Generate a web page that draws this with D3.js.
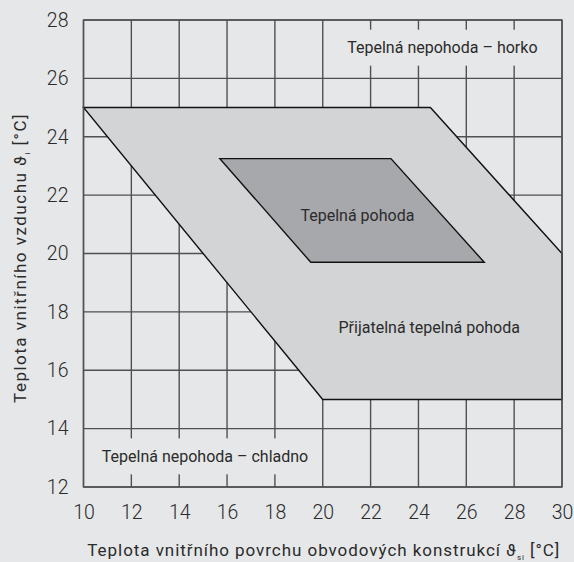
<!DOCTYPE html>
<html>
<head>
<meta charset="utf-8">
<script src="https://cdn.jsdelivr.net/npm/d3@7"></script>
<style>
  html, body { margin: 0; padding: 0; background: #e6e7e8; }
  svg { display: block; }
  text { font-family: Roboto, "DejaVu Sans", sans-serif; fill: #2b2b2b; }
</style>
</head>
<body>
<svg id="chart" width="574" height="562"></svg>
<script>
// Surface temperature (x) vs. indoor air temperature (y), °C
const xTicks = [10, 12, 14, 16, 18, 20, 22, 24, 26, 28, 30];
const yTicks = [12, 14, 16, 18, 20, 22, 24, 26, 28];

// Zone of acceptable thermal comfort: [surface temp, air temp]
const acceptableZone = [[10, 25], [24.5, 25], [30, 20], [30, 15], [20, 15]];
// Zone of thermal comfort
const comfortZone = [[15.7, 23.25], [22.85, 23.25], [26.75, 19.7], [19.5, 19.7]];

// Zone labels: text, centre x, centre y (data units), whether it masks the grid
const zoneLabels = [
  { text: "Tepelná nepohoda – horko", x: 25.0, y: 27.05, mask: true },
  { text: "Tepelná pohoda", x: 21.45, y: 21.3, mask: false },
  { text: "Přijatelná tepelná pohoda", x: 24.45, y: 17.45, mask: false },
  { text: "Tepelná nepohoda – chladno", x: 15.08, y: 13.05, mask: true }
];

const svg = d3.select("#chart");
const m = { left: 83.5, right: 562, top: 20, bottom: 487 };

const x = d3.scaleLinear().domain([10, 30]).range([m.left, m.right]);
const y = d3.scaleLinear().domain([12, 28]).range([m.bottom, m.top]);

const gridColor = "#505050";

// Grid
const grid = svg.append("g");
grid.selectAll("line.v").data(xTicks).join("line")
  .attr("x1", d => x(d)).attr("x2", d => x(d))
  .attr("y1", m.top).attr("y2", m.bottom)
  .attr("stroke", gridColor).attr("stroke-width", 1.4);
grid.selectAll("line.h").data(yTicks).join("line")
  .attr("x1", m.left).attr("x2", m.right)
  .attr("y1", d => y(d)).attr("y2", d => y(d))
  .attr("stroke", gridColor).attr("stroke-width", 1.4);

// Zones
const line = d3.line().x(d => x(d[0])).y(d => y(d[1]));
svg.append("path")
  .attr("d", line(acceptableZone) + "Z")
  .attr("fill", "#d3d4d6").attr("stroke", "#111").attr("stroke-width", 1.4)
  .attr("stroke-linejoin", "miter");
svg.append("path")
  .attr("d", line(comfortZone) + "Z")
  .attr("fill", "#a7a8ab").attr("stroke", "#111").attr("stroke-width", 1.4);

// Labels (with background boxes that interrupt the grid)
const labels = svg.append("g");
zoneLabels.forEach(l => {
  const t = labels.append("text")
    .attr("x", x(l.x)).attr("y", y(l.y))
    .attr("text-anchor", "middle").attr("dominant-baseline", "central")
    .attr("font-size", 16)
    .text(l.text);
  if (l.mask) {
    const bb = t.node().getBBox();
    labels.insert("rect", () => t.node())
      .attr("x", bb.x - 9).attr("y", y(l.y) - 18)
      .attr("width", bb.width + 18).attr("height", 36)
      .attr("fill", "#e6e7e8");
  }
});

// Plot frame
svg.append("rect")
  .attr("x", m.left).attr("y", m.top)
  .attr("width", m.right - m.left).attr("height", m.bottom - m.top)
  .attr("fill", "none").attr("stroke", gridColor).attr("stroke-width", 1.4);

// Axes
const xAxis = svg.append("g").attr("transform", `translate(0,${m.bottom})`)
  .call(d3.axisBottom(x).tickValues(xTicks).tickSize(0).tickPadding(18));
const yAxis = svg.append("g").attr("transform", `translate(${m.left},0)`)
  .call(d3.axisLeft(y).tickValues(yTicks).tickSize(0).tickPadding(15));
[xAxis, yAxis].forEach(a => {
  a.select(".domain").remove();
  a.selectAll("text")
    .attr("font-family", "Roboto, 'DejaVu Sans', sans-serif")
    .attr("font-size", 19.5).attr("font-weight", 300).attr("fill", "#2b2b2b");
});

// Axis titles
const xt = svg.append("text")
  .attr("x", (m.left + m.right) / 2 + 1).attr("y", 556)
  .attr("text-anchor", "middle").attr("font-size", 17)
  .attr("letter-spacing", 0.95);
xt.append("tspan").text("Teplota vnitřního povrchu obvodových konstrukcí ϑ");
xt.append("tspan").attr("font-size", 8).attr("dy", 4).text("si");
xt.append("tspan").attr("dy", -4).text(" [°C]");

const yt = svg.append("text")
  .attr("transform", `translate(26,${(m.top + m.bottom) / 2 + 4.5}) rotate(-90)`)
  .attr("text-anchor", "middle").attr("font-size", 17)
  .attr("letter-spacing", 1.5);
yt.append("tspan").text("Teplota vnitřního vzduchu ϑ");
yt.append("tspan").attr("font-size", 8).attr("dy", 4).text("i");
yt.append("tspan").attr("dy", -4).text(" [°C]");
</script>
</body>
</html>
